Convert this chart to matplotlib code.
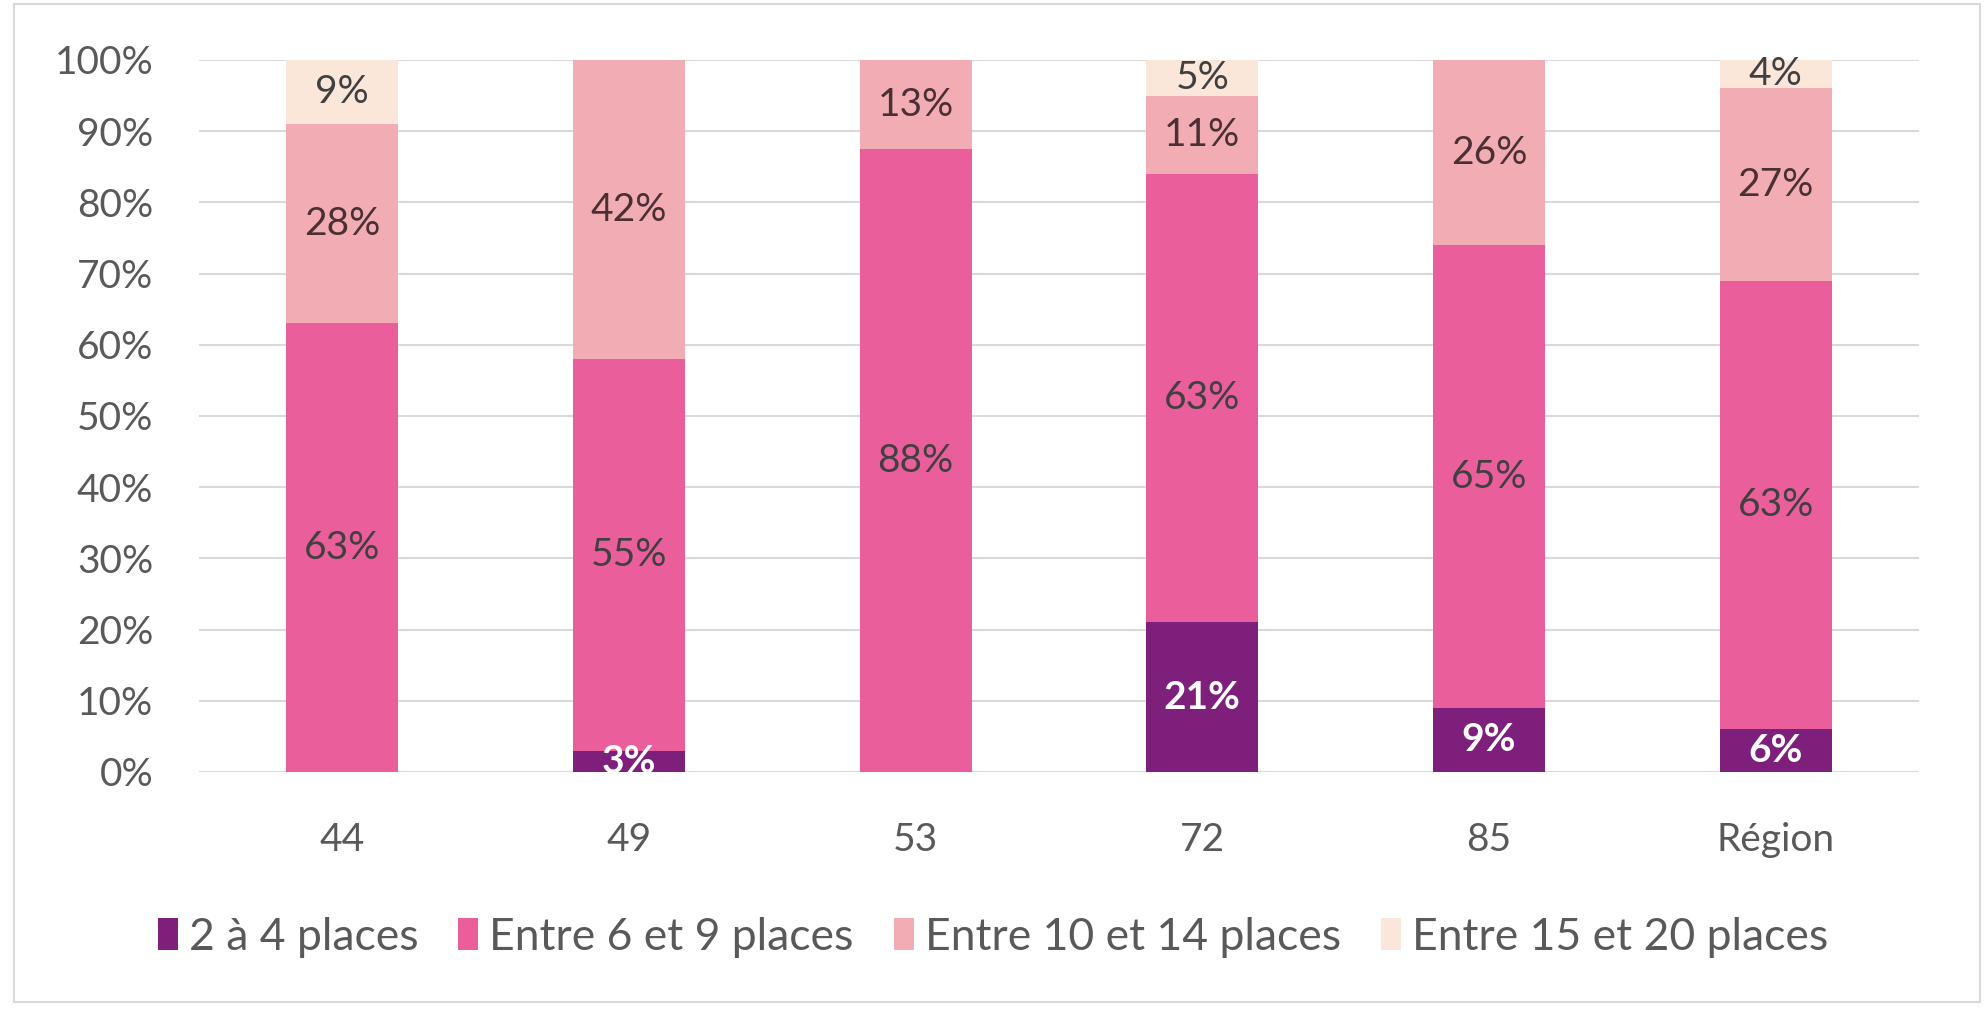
import numpy as np
import matplotlib.pyplot as plt
from matplotlib.patches import Rectangle

plt.rcParams['font.family'] = ['Lato', 'DejaVu Sans']

categories = ['44', '49', '53', '72', '85', 'Région']
series_names = ['2 à 4 places', 'Entre 6 et 9 places', 'Entre 10 et 14 places', 'Entre 15 et 20 places']
s_2_4 = [0, 3, 0, 21, 9, 6]
s_6_9 = [63, 55, 87.5, 63, 65, 63]
s_10_14 = [28, 42, 12.5, 11, 26, 27]
s_15_20 = [9, 0, 0, 5, 0, 4]

colors = ['#7d1f7b', '#ea5f9b', '#f2adb4', '#fbe6da']
label_colors = ['white', '#404040', '#4a3035', '#404040']

fig = plt.figure(figsize=(19.86, 10.16), dpi=100)
ax = fig.add_axes([199 / 1986, 1 - 772 / 1016, 1720 / 1986, 712 / 1016])

x = np.arange(len(categories))
bottom = np.zeros(len(categories))
series = [s_2_4, s_6_9, s_10_14, s_15_20]
for i, vals in enumerate(series):
    vals = np.array(vals, dtype=float)
    ax.bar(x, vals, 0.39, bottom=bottom, color=colors[i], label=series_names[i], zorder=2)
    for xi, v, b in zip(x, vals, bottom):
        if v <= 0:
            continue
        ax.text(xi, b + v / 2, f'{int(v + 0.5)}%', ha='center', va='center',
                fontsize=28, color=label_colors[i],
                fontweight='bold' if i == 0 else 'normal', zorder=3)
    bottom += vals

ax.set_ylim(0, 100)
ax.set_xlim(-0.5, len(categories) - 0.5)
ax.set_yticks(np.arange(0, 101, 10))
ax.set_yticklabels([f'{t}%' for t in range(0, 101, 10)])
ax.set_xticks(x)
ax.set_xticklabels(categories)
ax.tick_params(axis='both', length=0, labelsize=28, colors='#595959')
ax.tick_params(axis='y', pad=33)
ax.tick_params(axis='x', pad=36)
ax.yaxis.grid(True, color='#d9d9d9', linewidth=1.5, zorder=0)
for s in ax.spines.values():
    s.set_visible(False)
ax.axhline(0, color='#d9d9d9', linewidth=1.5, zorder=1)

fig.legend(loc='center', bbox_to_anchor=(0.5, 1 - 937 / 1016), ncol=4, frameon=False,
           fontsize=32, labelcolor='#595959', handlelength=0.45, handleheight=0.7,
           handletextpad=0.25, columnspacing=0.9)

fig.patches.append(Rectangle((14 / 1986, 14 / 1016), 1966 / 1986, 998 / 1016,
                             transform=fig.transFigure, fill=False,
                             edgecolor='#d9d9d9', linewidth=1.5))

fig.savefig('out.png', dpi=100)
